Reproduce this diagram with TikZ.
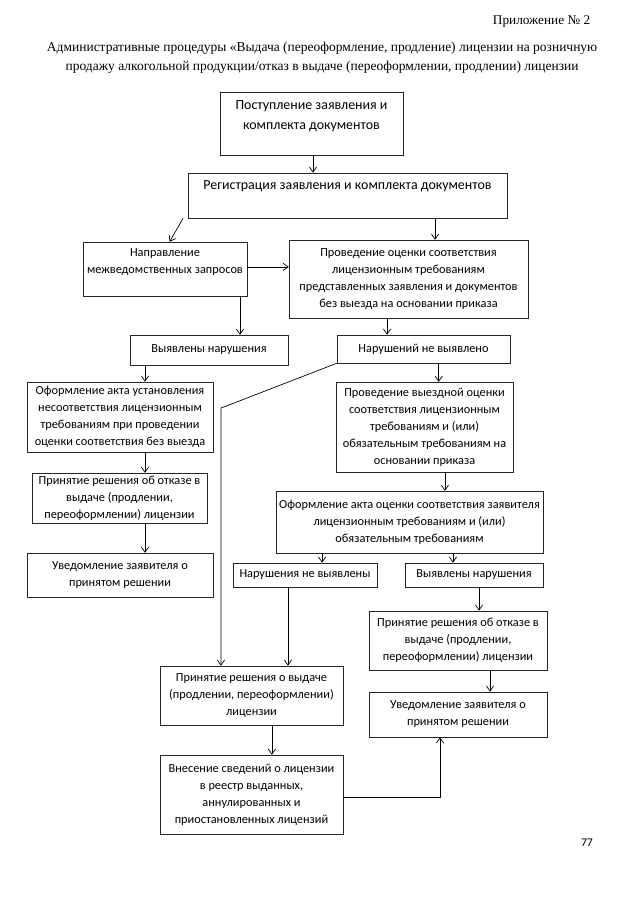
\documentclass[tikz,border=0pt]{standalone}
\usepackage{fontspec}
\setmainfont{Carlito}
\newfontfamily\hdrfont{Liberation Serif}
\usetikzlibrary{arrows.meta,calc}
\begin{document}
\begin{tikzpicture}[
  box/.style={draw=black!85,line width=0.5pt,align=center,inner sep=2pt,font=\fontsize{11.5}{15.9}\selectfont},
  bigbox/.style={box,font=\fontsize{13}{18.7}\selectfont},
  arr/.style={-{Straight Barb[length=1.7mm,width=2.4mm]},line width=0.65pt}]
  \useasboundingbox (0,0) rectangle (21,-29.6625);
  % Header
  \node[font=\hdrfont\fontsize{12.4}{14}\selectfont,anchor=east] (app) at (19.49,-0.72) {Приложение № 2};
  \node[font=\hdrfont\fontsize{12.6}{18}\selectfont,align=center] (title) at (10.57,-1.90) {Административные процедуры «Выдача (переоформление, продление) лицензии на розничную\\продажу алкогольной продукции/отказ в выдаче (переоформлении, продлении) лицензии};
  % Boxes
  \node[bigbox,minimum width=6.00cm,minimum height=2.07cm,text depth=0.55cm] (post) at (10.22,-4.05) {Поступление заявления и\\комплекта документов};
  \node[bigbox,minimum width=10.47cm,minimum height=1.48cm,text depth=0.67cm] (reg) at (11.40,-6.415) {Регистрация заявления и комплекта документов};
  \node[box,minimum width=5.38cm,minimum height=1.77cm,text depth=0.53cm] (napr) at (5.414,-8.827) {Направление\\межведомственных запросов};
  \node[box,minimum width=7.84cm,minimum height=2.56cm] (proved) at (13.404,-9.155) {Проведение оценки соответствия\\лицензионным требованиям\\представленных заявления и документов\\без выезда на основании приказа};
  \node[box,minimum width=5.18cm,minimum height=0.98cm] (vyyavlA) at (6.858,-11.484) {Выявлены нарушения};
  \node[box,minimum width=5.68cm,minimum height=0.92cm] (nenar) at (13.896,-11.452) {Нарушений не выявлено};
  \node[box,minimum width=6.10cm,minimum height=2.30cm] (aktL) at (3.9375,-13.683) {Оформление акта установления\\несоответствия лицензионным\\требованиям при проведении\\оценки соответствия без выезда};
  \node[box,minimum width=5.74cm,minimum height=1.64cm] (otkazL) at (3.921,-16.341) {Принятие решения об отказе в\\выдаче (продлении,\\переоформлении) лицензии};
  \node[box,minimum width=6.10cm,minimum height=1.44cm] (uvedL) at (3.9375,-18.867) {Уведомление заявителя о\\принятом решении};
  \node[box,minimum width=5.81cm,minimum height=2.95cm] (vyezd) at (13.929,-14.011) {Проведение выездной оценки\\соответствия лицензионным\\требованиям и (или)\\обязательным требованиям на\\основании приказа};
  \node[box,minimum width=8.76cm,minimum height=2.03cm] (aktR) at (13.437,-17.128) {Оформление акта оценки соответствия заявителя\\лицензионным требованиям и (или)\\обязательным требованиям};
  \node[box,minimum width=4.73cm,minimum height=0.79cm] (nenarB) at (10.008,-18.867) {Нарушения не выявлены};
  \node[box,minimum width=4.53cm,minimum height=0.79cm] (vyyavlB) at (15.553,-18.867) {Выявлены нарушения};
  \node[box,minimum width=6.00cm,minimum height=1.94cm] (vydacha) at (8.252,-22.821) {Принятие решения о выдаче\\(продлении, переоформлении)\\лицензии};
  \node[box,minimum width=5.84cm,minimum height=1.94cm] (otkazR) at (15.028,-21.016) {Принятие решения об отказе в\\выдаче (продлении,\\переоформлении) лицензии};
  \node[box,minimum width=5.84cm,minimum height=1.48cm] (uvedR) at (15.028,-23.445) {Уведомление заявителя о\\принятом решении};
  \node[box,minimum width=6.00cm,minimum height=2.59cm] (reestr) at (8.252,-26.070) {Внесение сведений о лицензии\\в реестр выданных,\\аннулированных и\\приостановленных лицензий};
  \node[font=\fontsize{11}{13}\selectfont] (page) at (19.26,-27.66) {77};
  % Flow steps
  \coordinate (bend) at (7.25,-13.39);
  \draw[arr] ([xshift=0.05cm]post.south) -- ([xshift=0.05cm]post.south |- reg.north);
  \draw[arr] ($(reg.south west)+(-0.15,0)$) -- ($(napr.north)+(0.15,0)$);
  \draw[arr] ([xshift=0.87cm]proved.north |- reg.south) -- ([xshift=0.87cm]proved.north);
  \draw[arr] ([yshift=0.07cm]napr.east) -- ([yshift=0.07cm]napr.east -| proved.west);
  \draw[arr] ([xshift=2.46cm]napr.south) -- ([xshift=2.46cm]napr.south |- vyyavlA.north);
  \draw[arr] ([xshift=-0.705cm]proved.south) -- ([xshift=-0.705cm]proved.south |- nenar.north);
  \draw[arr] ([xshift=0.82cm]aktL.north |- vyyavlA.south) -- ([xshift=0.82cm]aktL.north);
  \draw[arr] ([xshift=0.82cm]aktL.south) -- ([xshift=0.82cm]aktL.south |- otkazL.north);
  \draw[arr] ([xshift=0.82cm]aktL.south |- otkazL.south) -- ([xshift=0.82cm]aktL.south |- uvedL.north);
  \draw[arr] ([xshift=0.5cm]nenar.south) -- ([xshift=0.5cm]nenar.south |- vyezd.north);
  \draw[arr] ([xshift=0.67cm]vyezd.south) -- ([xshift=0.67cm]vyezd.south |- aktR.north);
  \draw[arr] ([xshift=0.56cm]nenarB.north |- aktR.south) -- ([xshift=0.56cm]nenarB.north);
  \draw[arr] ([xshift=-0.69cm]vyyavlB.north |- aktR.south) -- ([xshift=-0.69cm]vyyavlB.north);
  \draw[arr] ([xshift=0.69cm]otkazR.north |- vyyavlB.south) -- ([xshift=0.69cm]otkazR.north);
  \draw[arr] ([xshift=1.05cm]otkazR.south) -- ([xshift=1.05cm]otkazR.south |- uvedR.north);
  \draw[arr] (nenar.south west) -- (bend) -- (bend |- vydacha.north);
  \draw[arr] ([xshift=-0.56cm]nenarB.south) -- ([xshift=-0.56cm]nenarB.south |- vydacha.north);
  \draw[arr] ([xshift=0.67cm]vydacha.south) -- ([xshift=0.67cm]vydacha.south |- reestr.north);
  \draw[arr] ([yshift=-0.08cm]reestr.east) -| ([xshift=-0.59cm]uvedR.south);
\end{tikzpicture}
\end{document}
